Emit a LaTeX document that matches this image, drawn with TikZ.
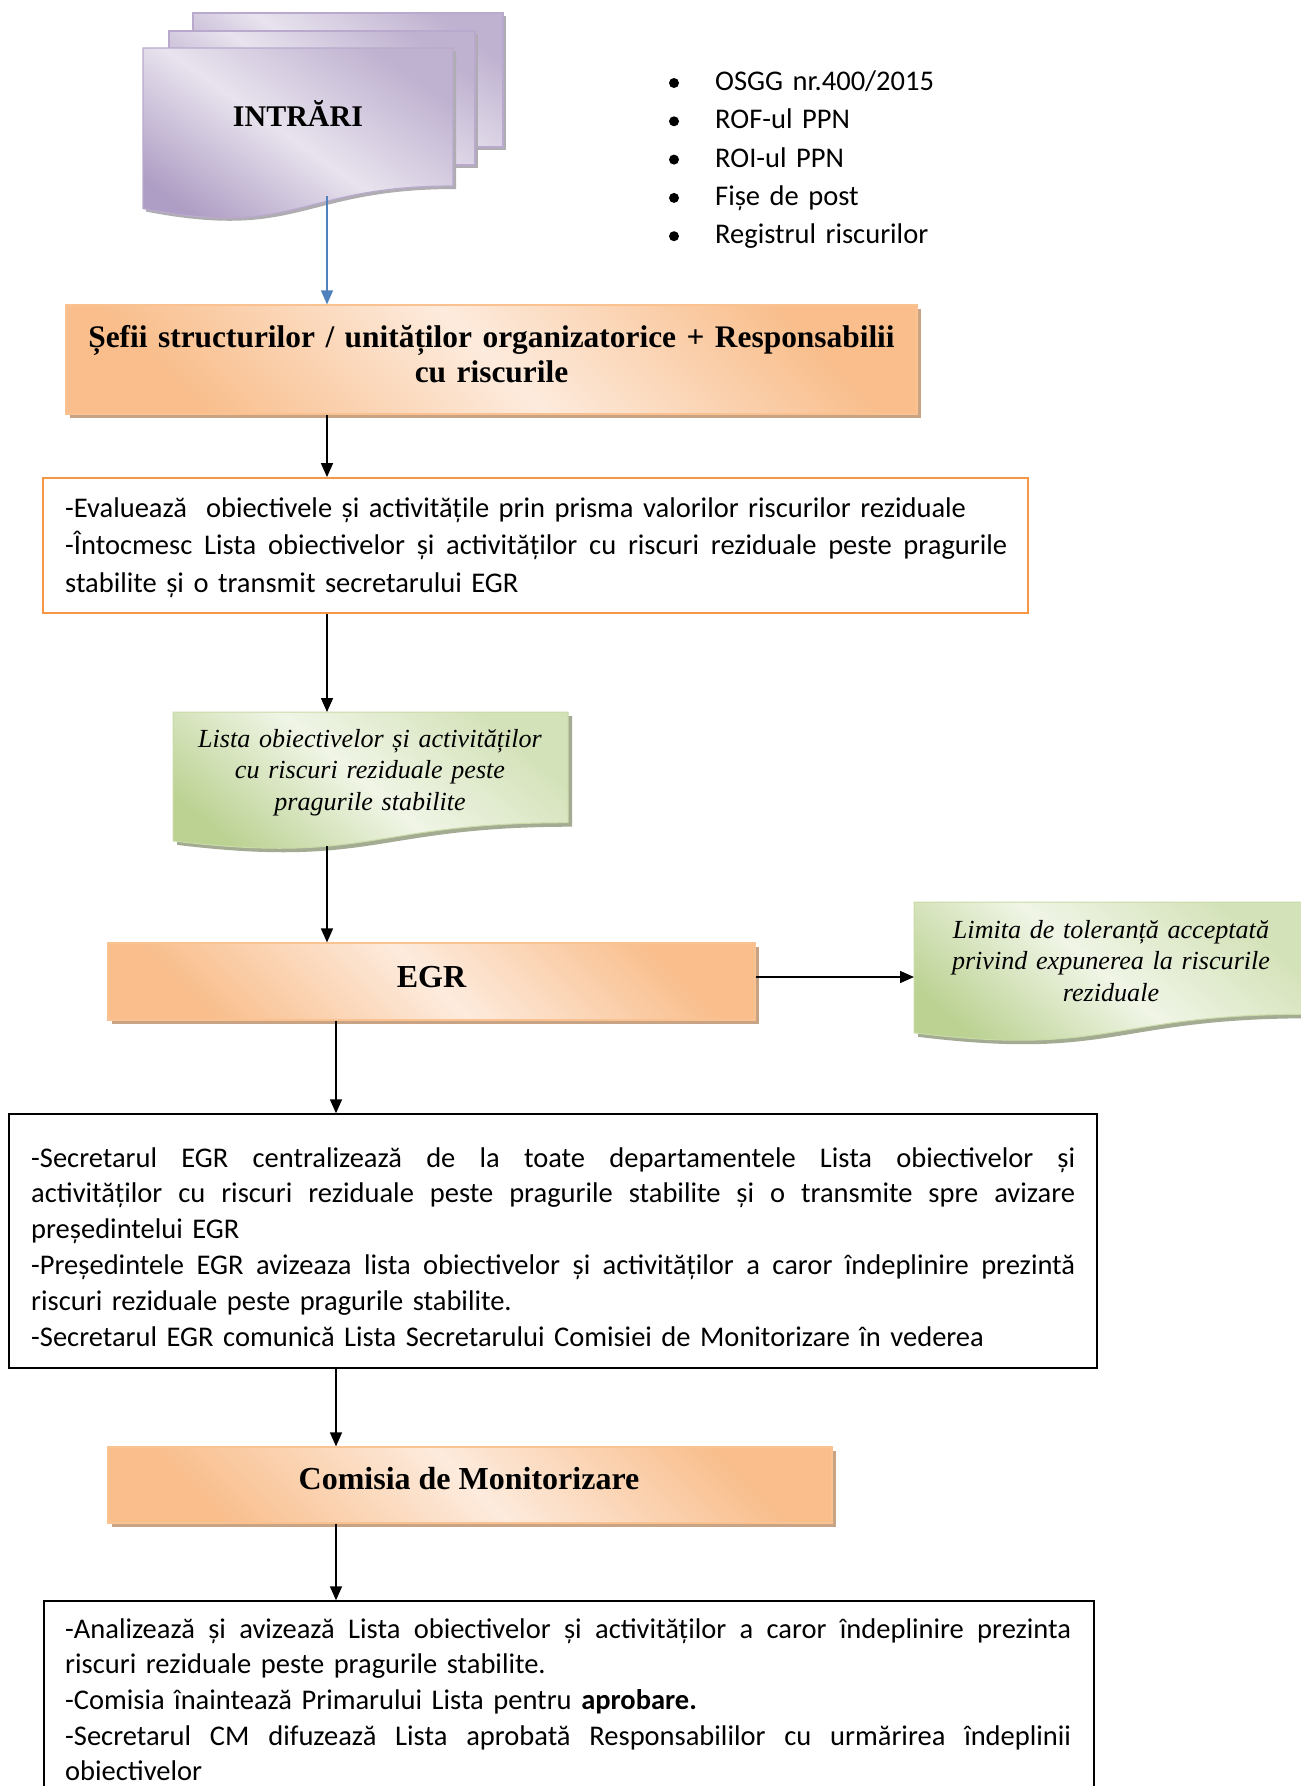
\documentclass[tikz,border=0pt]{standalone}
\usepackage{fontspec}
\setmainfont{Carlito}
\newfontfamily\tnr{Liberation Serif}
\usetikzlibrary{arrows.meta}
\definecolor{orD}{HTML}{F9BE8C}
\definecolor{orL}{HTML}{FDEBDD}
\definecolor{orB}{HTML}{FAC291}
\definecolor{orS}{HTML}{C9A484}
\definecolor{grD}{HTML}{BCD293}
\definecolor{grL}{HTML}{F0F5E6}
\definecolor{grB}{HTML}{C9DBA6}
\definecolor{grS}{HTML}{A3AB93}
\definecolor{puD}{HTML}{AE9DC4}
\definecolor{puL}{HTML}{E8E3EE}
\definecolor{puB}{HTML}{B9AACD}
\definecolor{puS}{HTML}{8C8A90}
\definecolor{boxO}{HTML}{F79646}
\definecolor{arB}{HTML}{4F81BD}
\newcommand\jline[2]{\leavevmode\hbox to #1{\spaceskip=0.226em plus 3em minus 0.06em\relax #2}}
\begin{document}
\begin{tikzpicture}[x=1pt,y=-1pt,
  arr/.style={line width=1.6pt,-{Triangle[width=12pt,length=14pt]}},
  orbox/.style={draw=orB,line width=1.2pt,top color=orD,bottom color=orD,middle color=orL,
     shading angle=-45,inner sep=0pt,
     preaction={fill=orS,transform canvas={xshift=4pt,yshift=-4pt}}},
  grshape/.style={draw=grB,line width=1pt,top color=grD!55!grL,bottom color=grD,middle color=grL,shading angle=-40},
  grshadow/.style={fill=grS,draw=none,shift={(4,4)}},
  pushape/.style={draw=puB,line width=1.2pt,top color=puD!70!puL,bottom color=puD,middle color=puL,shading angle=-35},
  pushadow/.style={fill=puS!70,draw=none,shift={(3,3)}},
  body/.style={font=\fontsize{28.5}{37.5}\selectfont,inner sep=0pt,align=left},
  ttl/.style={font=\tnr\bfseries\fontsize{31.4}{35}\selectfont,inner sep=0pt,align=center,text width=900pt},
  gtxt/.style={font=\tnr\itshape\fontsize{26.1}{31.5}\selectfont,inner sep=0pt,align=center,text width=390pt},
  bul/.style={circle,fill=black,inner sep=0pt,minimum size=10pt},
  plainbox/.style={draw=black,line width=1.5pt,inner sep=0pt}
]
\useasboundingbox (0,0) rectangle (1301,1786);
\clip (0,0) rectangle (1301,1786);

% ---------- INTRARI multi-document ----------
\fill[pushadow] (193,13) rectangle (503,147);
\path[pushape] (193,13) rectangle (503,147);
\fill[pushadow] (169,31) rectangle (475,165);
\path[pushape] (169,31) rectangle (475,165);
\fill[pushadow] (143,48) -- (453,48) -- (453,186) .. controls (298,186) and (298,238.4) .. (143,208.6) -- cycle;
\path[pushape] (143,48) -- (453,48) -- (453,186) .. controls (298,186) and (298,238.4) .. (143,208.6) -- cycle;
\node[font=\tnr\bfseries\fontsize{30}{32}\selectfont,anchor=base,inner sep=0pt] (inT) at (298,126) {INTRĂRI};
\coordinate (inB) at (327,196);

% ---------- bullet list ----------
\node[bul] (b1) at (674,83) {};
\node[bul] (b2) at (674,121.3) {};
\node[bul] (b3b) at (674,159.6) {};
\node[bul] (b4b) at (674,197.9) {};
\node[bul] (b5) at (674,236.2) {};
\node[body,font=\fontsize{28.5}{38.3}\selectfont,text width=400pt,anchor=base west] (lst) at (715,90.5) {OSGG nr.400/2015\\ROF-ul PPN\\ROI-ul PPN\\Fișe de post\\Registrul riscurilor};

% ---------- Sefii ----------
\node[orbox,minimum width=851pt,minimum height=109pt] (sefi) at (491.5,359.5) {};
\node[ttl,anchor=base] (sefiT) at (491.5,347) {Șefii structurilor / unităților organizatorice + Responsabilii\\cu riscurile};

% ---------- Evalueaza box ----------
\node[draw=boxO,line width=1.8pt,minimum width=985pt,minimum height=135pt,inner sep=0pt] (ev) at (535.5,545.5) {};
\node[body,text width=942pt,anchor=base west] (evT) at (65,517) {-Evaluează\ \ obiectivele și activitățile prin prisma valorilor riscurilor reziduale\\
\jline{942pt}{-Întocmesc Lista obiectivelor și activităților cu riscuri reziduale peste pragurile}\\
stabilite și o transmit secretarului EGR};

% ---------- green list document ----------
\fill[grshadow] (173,712) -- (568,712) -- (568,822.7) .. controls (370.5,822.7) and (370.5,864.8) .. (173,840.9) -- cycle;
\path[grshape] (173,712) -- (568,712) -- (568,822.7) .. controls (370.5,822.7) and (370.5,864.8) .. (173,840.9) -- cycle;
\node[gtxt,anchor=base] (g1T) at (370,747) {Lista obiectivelor și activităților\\cu riscuri reziduale peste\\pragurile stabilite};
\coordinate (g1top) at (327,712);
\coordinate (g1bot) at (327,846);

% ---------- EGR ----------
\node[orbox,minimum width=647pt,minimum height=77pt] (egr) at (431.5,981.5) {};
\node[font=\tnr\bfseries\fontsize{32}{34}\selectfont,anchor=base,inner sep=0pt] (egrT) at (431.5,987) {EGR};

% ---------- green limit document ----------
\fill[grshadow] (914,902) -- (1306,902) -- (1306,1014.3) .. controls (1110,1014.3) and (1110,1057) .. (914,1032.8) -- cycle;
\path[grshape] (914,902) -- (1306,902) -- (1306,1014.3) .. controls (1110,1014.3) and (1110,1057) .. (914,1032.8) -- cycle;
\node[gtxt,anchor=base] (g2T) at (1111,938) {Limita de toleranță acceptată\\privind expunerea la riscurile\\reziduale};
\coordinate (g2w) at (914,977);

% ---------- box 3 ----------
\node[plainbox,minimum width=1088pt,minimum height=254pt] (bx3) at (553,1241) {};
\node[body,font=\fontsize{28.5}{35.8}\selectfont,text width=1044pt,anchor=base west] (bx3T) at (31,1167) {%
\jline{1044pt}{-Secretarul EGR centralizează de la toate departamentele Lista obiectivelor și}\\
\jline{1044pt}{activităților cu riscuri reziduale peste pragurile stabilite și o transmite spre avizare}\\
președintelui EGR\\
\jline{1044pt}{-Președintele EGR avizeaza lista obiectivelor și activităților a caror îndeplinire prezintă}\\
riscuri reziduale peste pragurile stabilite.\\
-Secretarul EGR comunică Lista Secretarului Comisiei de Monitorizare în vederea};

% ---------- Comisia ----------
\node[orbox,minimum width=724pt,minimum height=76pt] (com) at (470,1485) {};
\node[font=\tnr\bfseries\fontsize{32}{34}\selectfont,anchor=base,inner sep=0pt] (comT) at (469,1489) {Comisia de Monitorizare};

% ---------- box 4 ----------
\node[plainbox,minimum width=1050pt,minimum height=229pt] (bx4) at (569,1715.5) {};
\node[body,font=\fontsize{28.5}{35.7}\selectfont,text width=1006pt,anchor=base west] (bx4T) at (65,1638) {%
\jline{1006pt}{-Analizează și avizează Lista obiectivelor și activităților a caror îndeplinire prezinta}\\
riscuri reziduale peste pragurile stabilite.\\
-Comisia înaintează Primarului Lista pentru \textbf{aprobare.}\\
\jline{1006pt}{-Secretarul CM difuzează Lista aprobată Responsabililor cu urmărirea îndeplinii}\\
obiectivelor};

% ---------- connectors ----------
\coordinate (cA) at (327,0);
\coordinate (cB) at (336,0);
\draw[arr,draw=arB,line width=1.4pt] (inB) -- (sefi.north -| inB);
\draw[arr] (sefi.south -| cA) -- (ev.north -| cA);
\draw[arr] (ev.south -| cA) -- (g1top);
\draw[arr] (g1bot) -- (egr.north -| g1bot);
\draw[arr] (egr.east |- g2w) -- (g2w);
\draw[arr] (egr.south -| cB) -- (bx3.north -| cB);
\draw[arr] (bx3.south -| cB) -- (com.north -| cB);
\draw[arr] (com.south -| cB) -- (bx4.north -| cB);
\end{tikzpicture}
\end{document}
